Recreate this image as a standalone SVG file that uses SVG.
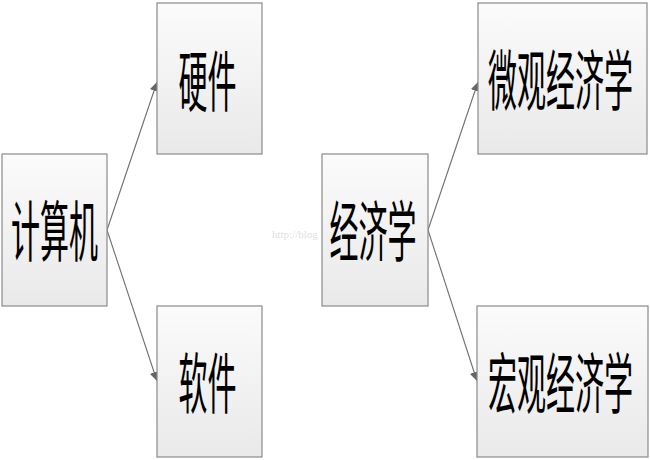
<svg xmlns="http://www.w3.org/2000/svg" width="650" height="460" viewBox="0 0 650 460">
<defs>
<linearGradient id="g" x1="0" y1="0" x2="0" y2="1">
<stop offset="0" stop-color="#fbfbfb"/>
<stop offset="1" stop-color="#e9e9e9"/>
</linearGradient>
<marker id="arr" viewBox="0 0 10 10" refX="10" refY="5" markerWidth="9" markerHeight="9" markerUnits="userSpaceOnUse" orient="auto">
<path d="M0,0 L10,5 L0,10 z" fill="#666"/>
</marker>
<style>
.box{fill:url(#g);stroke:#8a8a8a;stroke-width:1.2}
.lbl{font-family:"Noto Sans CJK SC","Noto Sans CJK JP",sans-serif;font-size:66px;font-weight:400;fill:#000;text-anchor:middle}
.c{fill:none;stroke:#6e6e6e;stroke-width:1.1}
.wm{font-family:"Liberation Serif",serif;font-size:11px;fill:#c8c8c8;fill-opacity:0.6}
</style>
</defs>
<rect width="650" height="460" fill="#fff"/>
<text class="wm" x="272" y="238">http://blog</text>
<g id="connectors">
<line class="c" x1="107" y1="230" x2="157" y2="82" marker-end="url(#arr)"/>
<line class="c" x1="107" y1="230" x2="157" y2="381" marker-end="url(#arr)"/>
<line class="c" x1="428" y1="230" x2="478" y2="82" marker-end="url(#arr)"/>
<line class="c" x1="428" y1="230" x2="477" y2="381" marker-end="url(#arr)"/>
</g>
<g id="node-computer">
<rect class="box" x="2" y="154" width="105" height="152"/>
<text class="lbl" transform="translate(54.5,256) scale(0.44,1)">计算机</text>
</g>
<g id="node-hardware">
<rect class="box" x="157" y="3" width="105" height="151"/>
<text class="lbl" transform="translate(207.5,106) scale(0.44,1)">硬件</text>
</g>
<g id="node-software">
<rect class="box" x="157" y="306" width="105" height="151"/>
<text class="lbl" transform="translate(207.5,408) scale(0.44,1)">软件</text>
</g>
<g id="node-economics">
<rect class="box" x="322" y="154" width="106" height="152"/>
<text class="lbl" transform="translate(373,256) scale(0.44,1)">经济学</text>
</g>
<g id="node-micro">
<rect class="box" x="478" y="3" width="169" height="151"/>
<text class="lbl" transform="translate(560.5,105) scale(0.44,1)">微观经济学</text>
</g>
<g id="node-macro">
<rect class="box" x="477" y="306" width="171" height="151"/>
<text class="lbl" transform="translate(560.5,408) scale(0.44,1)">宏观经济学</text>
</g>
</svg>
